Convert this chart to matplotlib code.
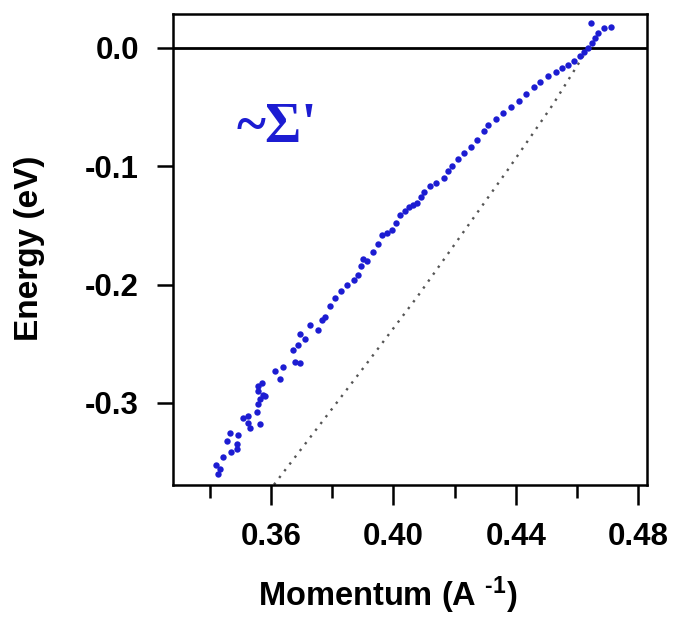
import matplotlib
matplotlib.use("Agg")
import matplotlib.pyplot as plt

plt.rcParams['font.family'] = ['Liberation Sans', 'DejaVu Sans']
plt.rcParams['mathtext.fontset'] = 'custom'
plt.rcParams['mathtext.rm'] = 'Liberation Sans:bold'
plt.rcParams['mathtext.bf'] = 'Liberation Sans:bold'
plt.rcParams['mathtext.default'] = 'bf'

# Measured dispersion: momentum (1/A) and binding energy (eV)
momentum = [
    0.3422, 0.3427, 0.3433, 0.3444, 0.3455, 0.3466, 0.3471, 0.3488, 0.3488, 0.3493,
    0.3509, 0.3526, 0.3526, 0.3531, 0.3553, 0.3558, 0.3558, 0.3558, 0.3564, 0.3564,
    0.3570, 0.3575, 0.3580, 0.3613, 0.3630, 0.3640, 0.3673, 0.3679, 0.3690, 0.3695,
    0.3695, 0.3711, 0.3728, 0.3755, 0.3766, 0.3777, 0.3793, 0.3810,
    0.3830, 0.3850, 0.3870, 0.3885, 0.3895, 0.3902, 0.3915, 0.3935, 0.3950, 0.3964,
    0.3980, 0.3997, 0.4010, 0.4023, 0.4037, 0.4050, 0.4065, 0.4079, 0.4090, 0.4100,
    0.4120, 0.4140, 0.4164, 0.4180, 0.4193, 0.4210, 0.4230, 0.4255, 0.4275, 0.4295,
    0.4310, 0.4335, 0.4360, 0.4384, 0.4410, 0.4435, 0.4460, 0.4480, 0.4505, 0.4530,
    0.4550, 0.4570, 0.4590, 0.4610, 0.4623, 0.4636, 0.4650, 0.4660, 0.4670, 0.4690,
    0.4710, 0.4646,
]
energy = [
    -0.352, -0.360, -0.356, -0.346, -0.332, -0.325, -0.341, -0.339, -0.335, -0.327,
    -0.313, -0.311, -0.317, -0.321, -0.308, -0.301, -0.290, -0.286, -0.297, -0.318,
    -0.283, -0.293, -0.294, -0.273, -0.280, -0.270, -0.255, -0.265, -0.251, -0.266,
    -0.242, -0.246, -0.234, -0.238, -0.230, -0.227, -0.218, -0.211,
    -0.205, -0.200, -0.196, -0.192, -0.184, -0.178, -0.180, -0.172, -0.166, -0.158,
    -0.156, -0.154, -0.148, -0.141, -0.138, -0.134, -0.133, -0.131, -0.126, -0.122,
    -0.117, -0.114, -0.110, -0.104, -0.100, -0.094, -0.089, -0.084, -0.078, -0.070,
    -0.065, -0.060, -0.055, -0.050, -0.045, -0.039, -0.033, -0.029, -0.024, -0.020,
    -0.017, -0.014, -0.011, -0.007, -0.003, 0.000, 0.004, 0.008, 0.0126, 0.017,
    0.018, 0.021,
]

# Bare band (dotted guide)
bare_k = [0.3610, 0.3918, 0.4079, 0.4374, 0.4521, 0.4625]
bare_e = [-0.369, -0.265, -0.210, -0.103, -0.048, -0.005]

x_major = [0.36, 0.40, 0.44, 0.48]
x_major_labels = ['0.36', '0.40', '0.44', '0.48']
x_minor = [0.34, 0.38, 0.42, 0.46]
y_major = [0.0, -0.1, -0.2, -0.3]
y_major_labels = ['0.0', '-0.1', '-0.2', '-0.3']

fig = plt.figure(figsize=(6.75, 6.2), dpi=100)
ax = fig.add_axes([173 / 675, 1 - 485 / 620, (647 - 173) / 675, (485 - 14) / 620])

ax.plot(bare_k, bare_e, linestyle=(0, (1, 2.6)), color='#555555', linewidth=1.7,
        zorder=2)
ax.axhline(0.0, color='black', linewidth=2.0, zorder=3)
ax.plot(momentum, energy, linestyle='none', marker='o', markersize=4.6,
        color='#1c1cd2', markeredgewidth=0, zorder=4)

ax.set_xlim(0.328, 0.4829)
ax.set_ylim(-0.3693, 0.0287)

ax.set_xticks(x_major)
ax.set_xticklabels(x_major_labels)
ax.set_xticks(x_minor, minor=True)
ax.set_yticks(y_major)
ax.set_yticklabels(y_major_labels)

for lbl in ax.get_xticklabels() + ax.get_yticklabels():
    lbl.set_fontweight('bold')
    lbl.set_fontsize(22.5)

ax.tick_params(axis='x', which='major', direction='out', length=14.5, width=1.8,
               pad=12)
ax.tick_params(axis='x', which='minor', direction='out', length=9.5, width=1.8)
ax.tick_params(axis='y', which='major', direction='out', length=11.5, width=1.8,
               pad=13)

for sp in ax.spines.values():
    sp.set_linewidth(1.8)

fig.text(388 / 675, 1 - 595 / 620, r'Momentum (A $^{\text{-1}}$)', ha='center',
         va='center', fontsize=23.5, fontweight='bold')
fig.text(30 / 675, 1 - 248 / 620, 'Energy (eV)', ha='center', va='center',
         rotation=90, fontsize=24, fontweight='bold')

fig.text(277 / 675, 1 - 128 / 620, "~\u03a3'", ha='center', va='center',
         fontsize=40, fontweight='bold', family=['Liberation Serif', 'DejaVu Serif'],
         color='#1c1cd2')

fig.savefig('out.png', dpi=100)
